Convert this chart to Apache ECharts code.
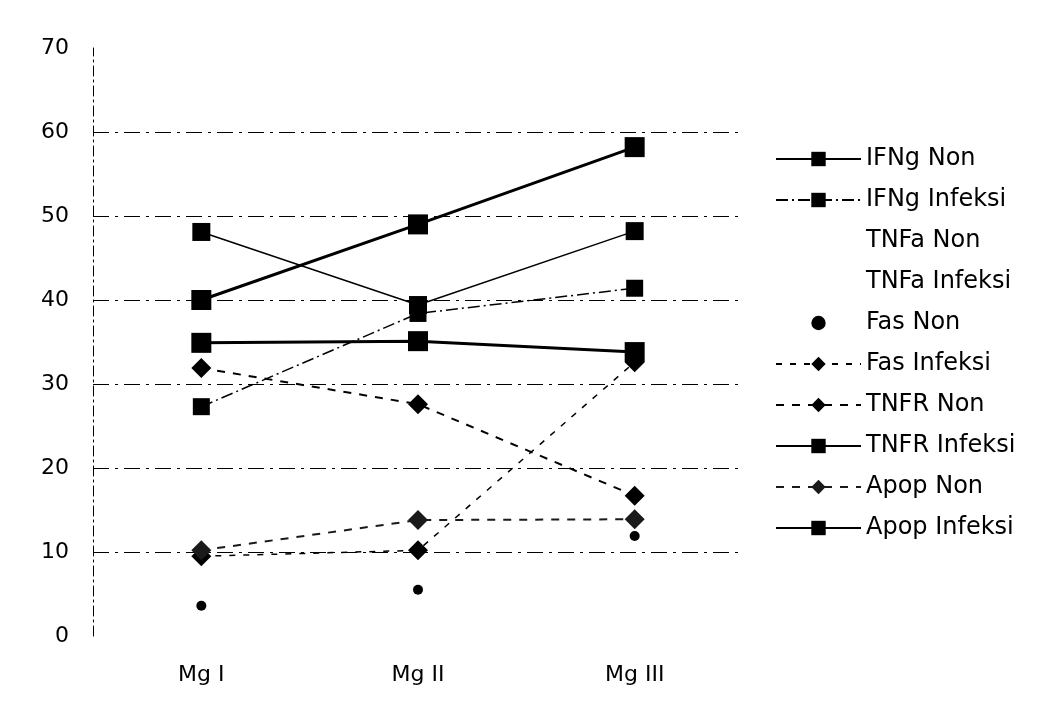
<!DOCTYPE html>
<html>
<head>
<meta charset="utf-8">
<script src="https://cdn.jsdelivr.net/npm/echarts@6/dist/echarts.min.js"></script>
<style>
  html, body { margin: 0; padding: 0; background: #fff; }
  #chart { width: 1040px; height: 708px; }
</style>
</head>
<body>
<div id="chart"></div>
<script>
  // categories + values
  const cats = ['Mg I', 'Mg II', 'Mg III'];
  const yTicks = [0, 10, 20, 30, 40, 50, 60, 70];

  const ifngNon = [48.1, 39.4, 48.2];
  const ifngInf = [27.3, 38.4, 41.4];
  const tnfaNon = [null, null, null];   // not visible in the scan
  const tnfaInf = [null, null, null];
  const fasNon = [3.6, 5.5, 11.9];
  const fasInf = [9.5, 10.2, 32.6];
  const tnfrNon = [31.9, 27.6, 16.7];
  const tnfrInf = [34.9, 35.1, 33.8];
  const apopNon = [10.2, 13.8, 13.9];
  const apopInf = [40.0, 49.0, 58.2];

  const font = 'DejaVu Sans';
  let myChart = echarts.init(document.getElementById('chart'));

  function mk(name, data, symbol, size, width, type, color) {
    return {
      name: name,
      type: 'line',
      data: data,
      symbol: symbol,
      symbolSize: size,
      color: color || '#000',
      lineStyle: {width: width, type: type, color: color || '#000', opacity: width > 0 ? 1 : 0},
      itemStyle: {color: color || '#000'},
      animation: false
    };
  }

  myChart.setOption({
    backgroundColor: '#fff',
    grid: {
      left: 93,
      top: 48,
      width: 650,
      height: 588
    },
    legend: {
      orient: 'vertical',
      left: 770,
      top: 142,
      itemWidth: 85,
      itemHeight: 18,
      itemGap: 17,
      textStyle: {
        fontFamily: font,
        fontSize: 24,
        color: '#000'
      },
      data: ['IFNg Non', 'IFNg Infeksi', 'TNFa Non', 'TNFa Infeksi', 'Fas Non',
        'Fas Infeksi', 'TNFR Non', 'TNFR Infeksi', 'Apop Non', 'Apop Infeksi']
    },
    xAxis: {
      type: 'category',
      data: cats,
      boundaryGap: true,
      axisLine: {show: false},
      axisTick: {show: false},
      axisLabel: {
        margin: 28,
        fontFamily: font,
        fontSize: 22,
        color: '#000'
      }
    },
    yAxis: {
      type: 'value',
      min: yTicks[0],
      max: yTicks[yTicks.length - 1],
      interval: 10,
      axisLine: {
        show: true,
        lineStyle: {color: '#000', width: 1, type: [10, 4, 2, 4]}
      },
      axisTick: {show: false},
      axisLabel: {
        margin: 24,
        fontFamily: font,
        fontSize: 22,
        color: '#000'
      },
      splitLine: {
        show: true,
        showMinLine: false,
        showMaxLine: false,
        lineStyle: {color: '#000', width: 1, type: [16, 6, 3, 6]}
      }
    },
    series: [
      mk('IFNg Non', ifngNon, 'rect', 18, 1.5, 'solid'),
      mk('IFNg Infeksi', ifngInf, 'rect', 17, 1.5, [12, 4, 2, 4]),
      mk('TNFa Non', tnfaNon, 'none', 0, 0, 'solid', '#fff'),
      mk('TNFa Infeksi', tnfaInf, 'none', 0, 0, 'solid', '#fff'),
      mk('Fas Non', fasNon, 'circle', 10, 0, 'solid'),
      mk('Fas Infeksi', fasInf, 'diamond', 20, 1.5, [6, 8]),
      mk('TNFR Non', tnfrNon, 'diamond', 20, 2, [8, 8]),
      mk('TNFR Infeksi', tnfrInf, 'rect', 20, 3, 'solid'),
      mk('Apop Non', apopNon, 'diamond', 20, 2, [8, 8], '#1a1a1a'),
      mk('Apop Infeksi', apopInf, 'rect', 20, 3, 'solid')
    ]
  });
</script>
</body>
</html>
